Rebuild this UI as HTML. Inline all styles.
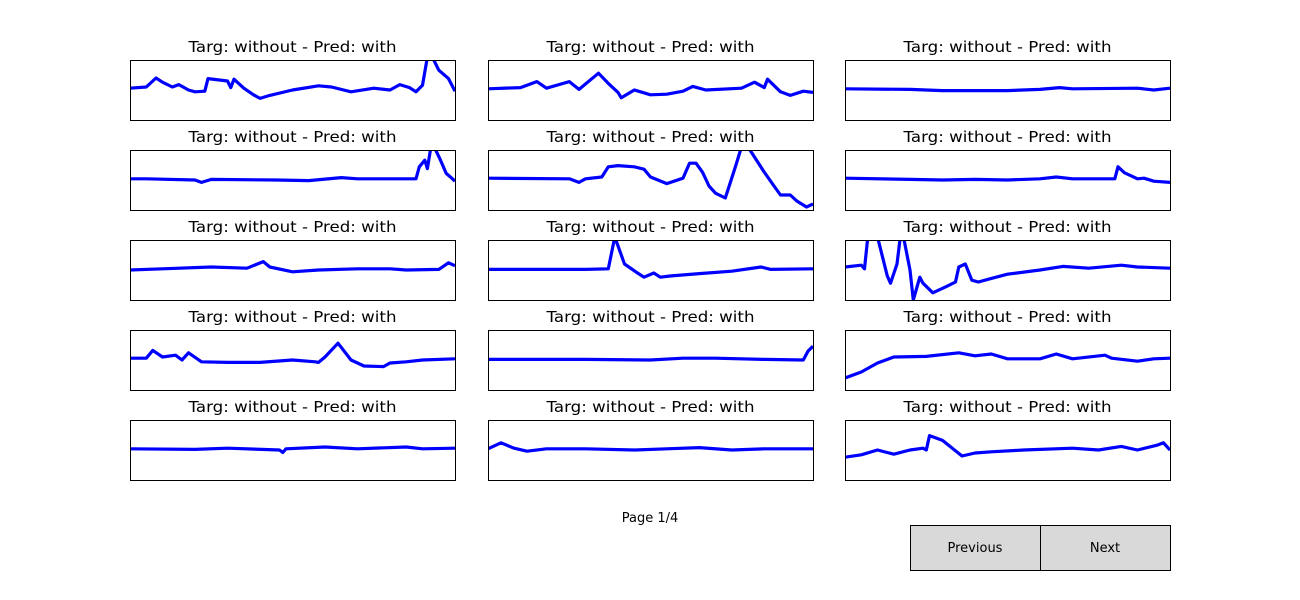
<!DOCTYPE html>
<html><head><meta charset="utf-8"><style>
body{margin:0;background:#fff;}
svg{display:block;font-family:"DejaVu Sans","Liberation Sans",sans-serif;}
</style></head><body>
<svg id="fig" width="1300" height="600" viewBox="0 0 1300 600">
<rect width="1300" height="600" fill="#fff"/>
<text x="650" y="522" font-size="13" text-anchor="middle">Page 1/4</text>
<g>
<rect x="910.5" y="525.5" width="130" height="45" fill="#d9d9d9" stroke="#000" stroke-width="1"/>
<text x="975" y="552" font-size="13" text-anchor="middle">Previous</text></g>
<g>
<rect x="1040.5" y="525.5" width="130" height="45" fill="#d9d9d9" stroke="#000" stroke-width="1"/>
<text x="1105" y="552" font-size="13" text-anchor="middle">Next</text></g>
</svg>
<script>
const titles = ["Targ: without - Pred: with"];
const s1 = [[0,.53],[.05,.55],[.08,.70],[.1,.63],[.13,.55],[.15,.59],[.18,.50],[.2,.47],[.23,.48],[.24,.69],[.3,.65],[.31,.54],[.32,.68],[.35,.53],[.38,.42],[.4,.36],[.43,.41],[.5,.50],[.58,.57],[.62,.55],[.68,.47],[.75,.53],[.8,.50],[.83,.59],[.86,.54],[.88,.47],[.9,.58],[.915,1.05],[.93,1.05],[.95,.83],[.98,.69],[1,.48]];
const s2 = [[0,.52],[.1,.54],[.15,.64],[.18,.53],[.25,.64],[.28,.51],[.34,.78],[.37,.61],[.4,.46],[.41,.37],[.45,.50],[.5,.42],[.55,.43],[.6,.48],[.63,.56],[.67,.50],[.78,.53],[.82,.63],[.85,.54],[.86,.68],[.9,.47],[.93,.41],[.97,.48],[1,.46]];
const s3 = [[0,.52],[.2,.51],[.3,.49],[.5,.49],[.6,.51],[.66,.54],[.7,.52],[.9,.53],[.95,.50],[1,.53]];
const s4 = [[0,.52],[.05,.52],[.2,.50],[.22,.46],[.25,.51],[.45,.50],[.55,.49],[.65,.54],[.7,.52],[.88,.52],[.89,.72],[.907,.83],[.915,.69],[.926,1.05],[.936,1.05],[.953,.86],[.973,.61],[.99,.53],[1,.48]];
const s5 = [[0,.53],[.25,.52],[.28,.46],[.3,.52],[.35,.55],[.37,.72],[.4,.74],[.45,.72],[.48,.68],[.5,.55],[.55,.44],[.6,.53],[.62,.78],[.64,.78],[.66,.63],[.68,.40],[.7,.28],[.73,.20],[.76,.70],[.78,1.05],[.8,1.05],[.85,.63],[.88,.40],[.9,.25],[.93,.25],[.95,.15],[.98,.05],[1,.10]];
const s6 = [[0,.53],[.2,.51],[.3,.50],[.4,.51],[.5,.50],[.6,.52],[.65,.55],[.7,.52],[.83,.52],[.84,.72],[.86,.62],[.9,.52],[.92,.53],[.95,.48],[1,.46]];
const s7 = [[0,.50],[.1,.52],[.25,.55],[.36,.53],[.41,.64],[.43,.55],[.5,.47],[.58,.50],[.7,.52],[.8,.52],[.85,.50],[.95,.51],[.98,.62],[1,.57]];
const s8 = [[0,.51],[.3,.51],[.37,.52],[.39,1.05],[.42,.60],[.46,.45],[.48,.38],[.51,.45],[.53,.38],[.56,.40],[.65,.44],[.75,.48],[.84,.55],[.87,.51],[1,.52]];
const s9 = [[0,.55],[.05,.58],[.06,.52],[.07,1.05],[.1,1.05],[.13,.40],[.14,.28],[.16,.60],[.17,1.05],[.18,1.05],[.2,.50],[.21,0],[.23,.38],[.24,.28],[.27,.12],[.31,.22],[.34,.30],[.35,.55],[.37,.60],[.39,.33],[.41,.30],[.45,.36],[.5,.43],[.6,.50],[.67,.56],[.75,.53],[.85,.58],[.9,.55],[1,.53]];
const s10 = [[0,.53],[.05,.53],[.07,.66],[.1,.55],[.14,.58],[.16,.50],[.18,.62],[.22,.47],[.3,.46],[.4,.46],[.5,.50],[.57,.47],[.58,.46],[.6,.55],[.64,.78],[.68,.50],[.72,.40],[.78,.39],[.8,.45],[.85,.47],[.9,.50],[1,.52]];
const s11 = [[0,.51],[.2,.51],[.3,.51],[.5,.50],[.6,.53],[.7,.53],[.85,.51],[.97,.50],[.985,.65],[1,.73]];
const s12 = [[0,.20],[.05,.30],[.1,.45],[.15,.55],[.25,.56],[.35,.62],[.4,.57],[.45,.60],[.5,.52],[.6,.52],[.65,.60],[.7,.52],[.8,.58],[.82,.53],[.9,.48],[.95,.52],[1,.53]];
const s13 = [[0,.52],[.2,.51],[.3,.53],[.46,.50],[.47,.46],[.48,.52],[.6,.55],[.7,.52],[.85,.55],[.9,.52],[1,.53]];
const s14 = [[0,.52],[.04,.62],[.08,.53],[.12,.48],[.18,.52],[.3,.52],[.45,.50],[.55,.52],[.65,.54],[.75,.50],[.85,.52],[1,.52]];
const s15 = [[0,.38],[.05,.42],[.1,.50],[.15,.43],[.2,.50],[.24,.53],[.25,.50],[.26,.74],[.3,.66],[.36,.40],[.4,.45],[.45,.47],[.55,.50],[.7,.53],[.78,.50],[.85,.56],[.9,.50],[.96,.58],[.98,.62],[1,.50]];
const series = [s1,s2,s3,s4,s5,s6,s7,s8,s9,s10,s11,s12,s13,s14,s15];

const NS = "http://www.w3.org/2000/svg";
const svg = document.getElementById('fig');
const colX = [130, 488, 845], rowY = [60, 150, 240, 330, 420], W = 325, H = 60;
let defs = document.createElementNS(NS, 'defs');
svg.appendChild(defs);
series.forEach((s, i) => {
  const x0 = colX[i % 3], y0 = rowY[Math.floor(i / 3)];
  const sx = t => x0 + t * W, sy = v => y0 + H - v * H;
  const g = document.createElementNS(NS, 'g');
  
  
  const cp = document.createElementNS(NS, 'clipPath');
  cp.setAttribute('id', 'c' + i);
  const cr = document.createElementNS(NS, 'rect');
  cr.setAttribute('x', x0); cr.setAttribute('y', y0); cr.setAttribute('width', W); cr.setAttribute('height', H);
  cp.appendChild(cr); defs.appendChild(cp);
  const p = document.createElementNS(NS, 'path');
  
  
  p.setAttribute('d', s.map((d, k) => (k ? 'L' : 'M') + sx(d[0]).toFixed(1) + ' ' + sy(d[1]).toFixed(1)).join(' '));
  p.setAttribute('fill', 'none'); p.setAttribute('stroke', '#0000ff'); p.setAttribute('stroke-width', '3.2');
  p.setAttribute('stroke-linejoin', 'round');
  p.setAttribute('clip-path', 'url(#c' + i + ')');
  g.appendChild(p);
  const fr = document.createElementNS(NS, 'rect');
  
  
  fr.setAttribute('x', x0 + .5); fr.setAttribute('y', y0 + .5); fr.setAttribute('width', W); fr.setAttribute('height', H);
  fr.setAttribute('fill', 'none'); fr.setAttribute('stroke', '#000'); fr.setAttribute('stroke-width', '1');
  g.appendChild(fr);
  const t = document.createElementNS(NS, 'text');
  
  
  t.setAttribute('x', x0 + W / 2); t.setAttribute('y', y0 - 8);
  t.setAttribute('text-anchor', 'middle'); t.setAttribute('font-size', '15');
  t.setAttribute('textLength', '208'); t.setAttribute('lengthAdjust', 'spacingAndGlyphs');
  t.textContent = titles[0];
  g.appendChild(t);
  svg.appendChild(g);
});
</script>
</body></html>
